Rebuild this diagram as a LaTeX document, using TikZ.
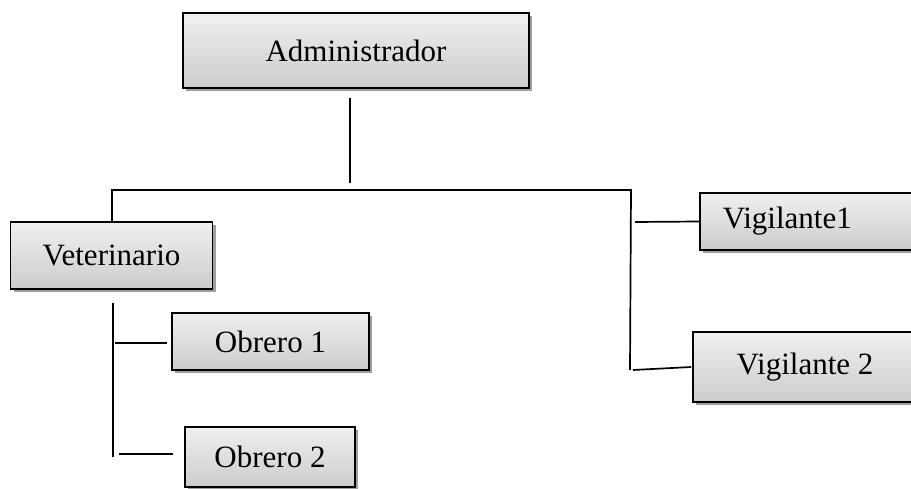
\documentclass[tikz,border=0pt]{standalone}
\usepackage{fontspec}
\setmainfont{Liberation Serif}
\usetikzlibrary{shadows}

\tikzset{
  orgbox/.style={draw=black, line width=1.6pt, top color=gray!12, bottom color=gray!40,
    drop shadow={shadow xshift=3pt, shadow yshift=-3pt, fill=gray!75, opacity=1},
    inner sep=0pt, font=\fontsize{31}{37}\selectfont},
  link/.style={line width=1.7pt}
}

\begin{document}
\begin{tikzpicture}[x=1pt, y=-1pt]

% Page size of the reference
\path[use as bounding box, clip] (0,0) rectangle (911,489);

% Boxes
\node[orgbox, minimum width=346pt, minimum height=75pt] (admin) at (356,50.5) {Administrador};
\node[orgbox, minimum width=202pt, minimum height=67pt] (vet) at (111.5,255.5) {Veterinario};
\node[orgbox, minimum width=197pt, minimum height=57pt] (obr1) at (270.5,341.5) {Obrero 1};
\node[orgbox, minimum width=170pt, minimum height=60pt] (obr2) at (270,457) {Obrero 2};
\node[orgbox, anchor=west, text width=185pt, align=left, inner xsep=23pt, minimum height=57pt] (vig1) at (699,221.5) {Vigilante1};
\node[orgbox, minimum width=224pt, minimum height=70pt] (vig2) at (805,367) {Vigilante 2};

% Junction points
\coordinate (top) at (350,98);
\coordinate (hubL) at (112,190);
\coordinate (hubM) at (350,190);
\coordinate (hubR) at (631,190);
\coordinate (vetA) at (113,303);
\coordinate (vetB) at (113,457);
\coordinate (obr1L) at (167,343);
\coordinate (obr2L) at (173,454);

% Connectors
\draw[link] (top) -- ([yshift=7pt]hubM);
\draw[link] (vet.north -| hubL) -- (hubL) -- (hubR) -- (630,370);
\draw[link] (635,222) -- (vig1.west);
\draw[link] (633,370) -- ([xshift=-1pt]vig2.west);
\draw[link] (vetA) -- (vetB);
\draw[link] (115,343) -- (obr1L);
\draw[link] (119,454) -- (obr2L);

\end{tikzpicture}
\end{document}
